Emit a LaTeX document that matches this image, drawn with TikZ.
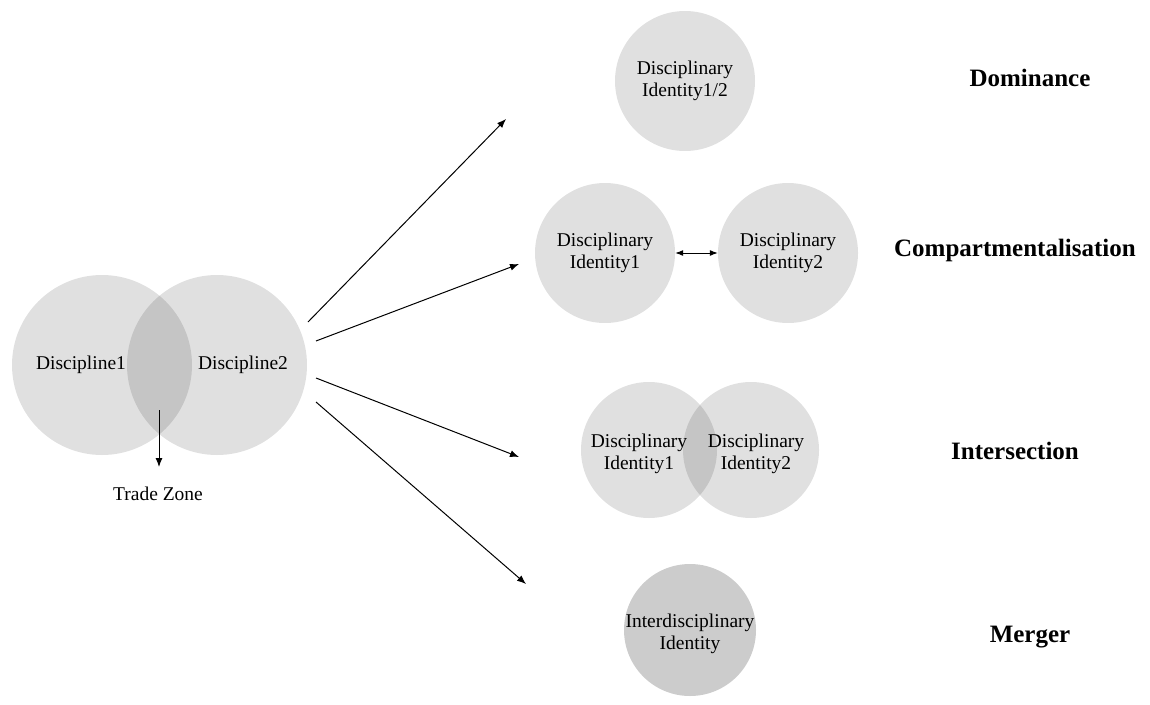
\documentclass[tikz,border=0pt]{standalone}
\usepackage{fontspec}
\setmainfont{Liberation Serif}
\usetikzlibrary{arrows.meta}
\begin{document}
\begin{tikzpicture}[x=1pt,y=-1pt,
  disc/.style={circle, fill=black, fill opacity=0.12, text opacity=1, draw=none, minimum size=#1, inner sep=0pt},
  darkdisc/.style={circle, fill=black!20, draw=none, minimum size=#1, inner sep=0pt},
  lbl/.style={font=\fontsize{19.5}{22}\selectfont, align=center, inner sep=0pt},
  ttl/.style={font=\fontsize{25}{30}\selectfont\bfseries, inner sep=0pt},
  arr/.style={line width=1pt, -{Latex[length=9pt,width=7pt]}},
  darr/.style={line width=1pt, {Latex[length=8pt,width=6pt]}-{Latex[length=8pt,width=6pt]}}
]
\useasboundingbox (0,0) rectangle (1150,704);

% left pair
\node[disc=180] (d1) at (102,365) {};
\node[disc=180] (d2) at (217,365) {};
\node[lbl] (t1) at (81,365) {Discipline1};
\node[lbl] (t2) at (243,365) {Discipline2};
\coordinate (tzs) at (159,410);
\coordinate (tze) at (159,467);
\draw[arr] (tzs) -- (tze);
\node[lbl] (tz) at (158,494) {Trade Zone};

% arrows
\coordinate (s1) at (308,322);
\coordinate (e1) at (506,119);
\coordinate (s2) at (316,341);
\coordinate (e2) at (519,264);
\coordinate (s3) at (316,378);
\coordinate (e3) at (519,457);
\coordinate (s4) at (316,402);
\coordinate (e4) at (526,584);
\draw[arr] (s1) -- (e1);
\draw[arr] (s2) -- (e2);
\draw[arr] (s3) -- (e3);
\draw[arr] (s4) -- (e4);

% dominance
\node[disc=140, lbl] (dom) at (685,81) {Disciplinary\\Identity1/2};

% compartmentalisation
\node[disc=140, lbl] (ca) at (605,253) {Disciplinary\\Identity1};
\node[disc=140, lbl] (cb) at (788,253) {Disciplinary\\Identity2};
\draw[darr] (ca) -- (cb);

% intersection
\node[disc=136] (ia) at (649,450) {};
\node[disc=136] (ib) at (751,450) {};
\node[lbl] (ta) at (639,454) {Disciplinary\\Identity1};
\node[lbl] (tb) at (756,454) {Disciplinary\\Identity2};

% merger
\node[darkdisc=132] (m) at (690,630) {};
\node[lbl] (tm) at (690,634) {Interdisciplinary\\Identity};

% titles
\node[ttl] (l1) at (1030,78) {Dominance};
\node[ttl] (l2) at (1015,250) {Compartmentalisation};
\node[ttl] (l3) at (1015,451) {Intersection};
\node[ttl] (l4) at (1030,637) {Merger};
\end{tikzpicture}
\end{document}
